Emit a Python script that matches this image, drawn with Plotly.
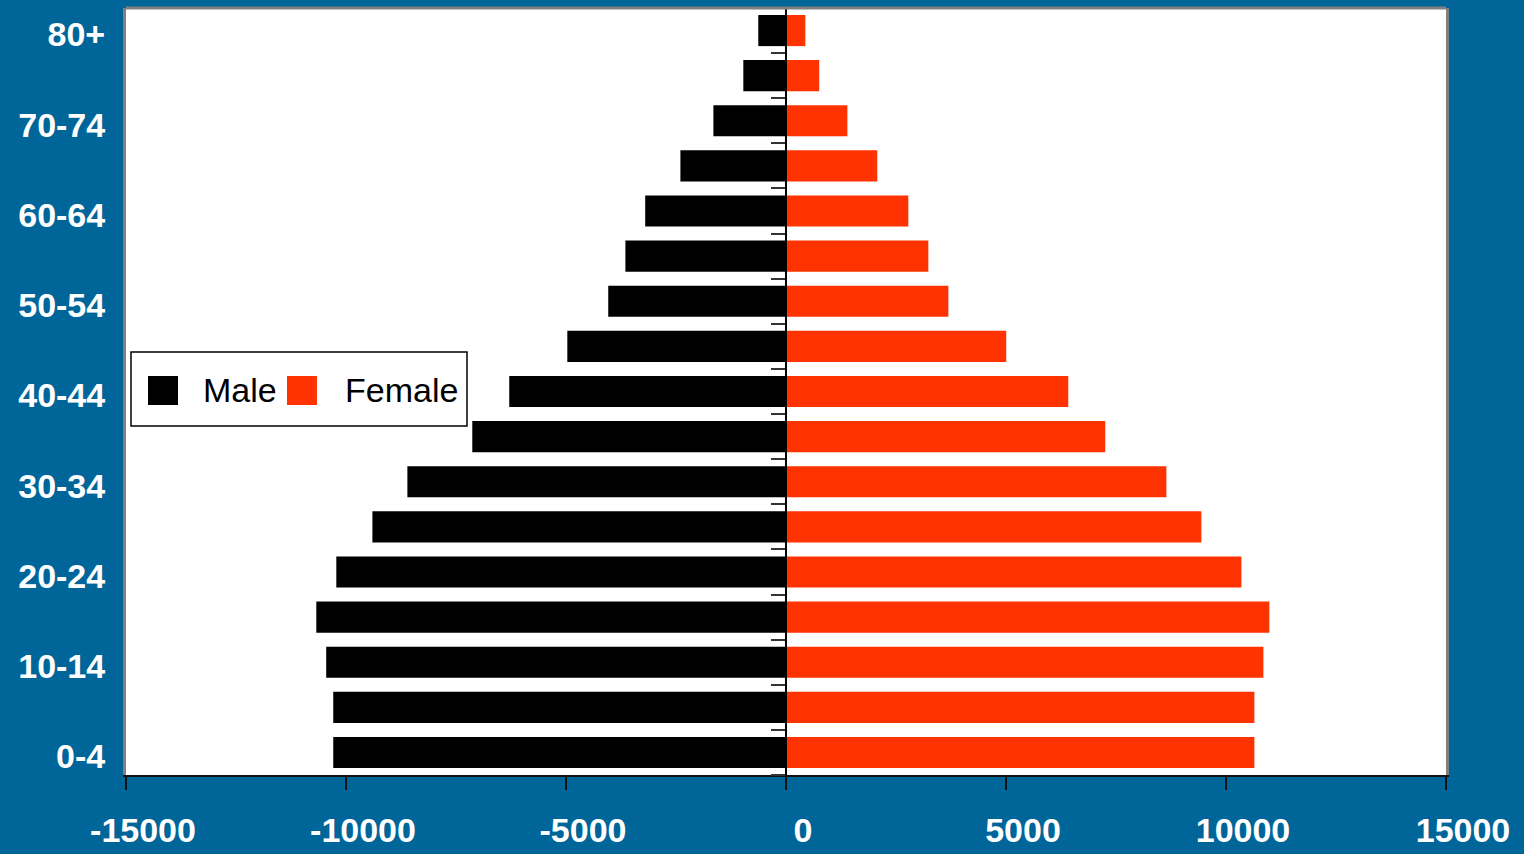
import plotly.graph_objects as go

# Age groups, youngest first (bottom of the pyramid)
age_groups = ["0-4", "5-9", "10-14", "15-19", "20-24", "25-29", "30-34", "35-39",
              "40-44", "45-49", "50-54", "55-59", "60-64", "65-69", "70-74", "75-79", "80+"]
male = [10290, 10290, 10450, 10675, 10220, 9400, 8605, 7130,
        6290, 4970, 4040, 3650, 3200, 2400, 1650, 970, 630]
female = [10645, 10645, 10850, 10985, 10350, 9440, 8645, 7255,
          6415, 5005, 3690, 3235, 2780, 2075, 1395, 755, 440]
x_ticks = [-15000, -10000, -5000, 0, 5000, 10000, 15000]

BG = "#006699"
MALE_COLOR = "#000000"
FEMALE_COLOR = "#FF3300"

W, H = 1524, 854
ML, MR, MT, MB = 126, 78, 8, 79
PW, PH = W - ML - MR, H - MT - MB


def px_x(px):
    return (px - ML) / PW


def px_y(py):
    return (H - MB - py) / PH


ypos = list(range(len(age_groups)))

fig = go.Figure()
# male bars sit on the central axis (y2), female bars on the labelled axis
fig.add_trace(go.Bar(
    y=ypos, x=[-v for v in male], orientation="h", name="Male", yaxis="y2",
    marker=dict(color=MALE_COLOR, line=dict(width=0)), showlegend=False,
))
fig.add_trace(go.Bar(
    y=ypos, x=female, orientation="h", name="Female",
    marker=dict(color=FEMALE_COLOR, line=dict(width=0)), showlegend=False,
))

label_font = dict(family="Liberation Sans, Arial, sans-serif", size=34, color="white", weight="bold")

fig.update_layout(
    width=W, height=H,
    margin=dict(l=ML, r=MR, t=MT, b=MB, pad=0),
    paper_bgcolor=BG, plot_bgcolor="white",
    barmode="relative", bargap=0.31,
    showlegend=False,
    xaxis=dict(
        range=[-15000, 15000], tickvals=x_ticks, ticktext=[str(v) for v in x_ticks],
        showgrid=False, zeroline=False, automargin=False,
        showline=True, linecolor="#111111", linewidth=2,
        ticks="outside", ticklen=13, tickwidth=2, tickcolor="#111111",
        tickfont=dict(family="Liberation Sans, Arial, sans-serif", size=34, color="white", weight="bold"),
        ticklabelstandoff=11, ticklabelshift=17,
        fixedrange=True,
    ),
    yaxis=dict(
        range=[-0.5, len(age_groups) - 0.5],
        tickvals=ypos[::2], ticktext=age_groups[::2],
        showgrid=False, zeroline=False, automargin=False,
        showline=True, linecolor="#808080", linewidth=3, mirror=True,
        ticks="", tickfont=label_font, ticklabelstandoff=11, ticklabelshift=4,
        fixedrange=True,
    ),
    # central vertical axis with boundary ticks between age groups
    yaxis2=dict(
        overlaying="y", anchor="free", position=0.5, side="left",
        range=[-0.5, len(age_groups) - 0.5],
        tickvals=[k + 0.5 for k in range(-1, len(age_groups))],
        showticklabels=False, showgrid=False, zeroline=False, automargin=False,
        showline=True, linecolor="#000000", linewidth=2,
        ticks="outside", ticklen=14, tickwidth=2, tickcolor="#333333",
        fixedrange=True,
    ),
)

# gray top edge of the plotting area
fig.add_shape(type="line", xref="paper", yref="paper", x0=0, x1=1, y0=1, y1=1,
              line=dict(color="#808080", width=3))

# legend box with colour keys
fig.add_shape(type="rect", xref="paper", yref="paper",
              x0=px_x(131), x1=px_x(467), y0=px_y(426), y1=px_y(352),
              line=dict(color="#000000", width=1.5), fillcolor="white", layer="above")
legend_items = [("Male", MALE_COLOR, 148, 201), ("Female", FEMALE_COLOR, 287, 343)]
for name, color, sq_left, text_left in legend_items:
    fig.add_shape(type="rect", xref="paper", yref="paper",
                  x0=px_x(sq_left), x1=px_x(sq_left + 30), y0=px_y(405), y1=px_y(376),
                  line=dict(width=0), fillcolor=color, layer="above")
    fig.add_annotation(xref="paper", yref="paper", x=px_x(text_left), y=px_y(390),
                       xanchor="left", yanchor="middle", text=name, showarrow=False,
                       font=dict(family="Liberation Sans, Arial, sans-serif", size=34, color="#000000"))

fig.write_html("out.html")
